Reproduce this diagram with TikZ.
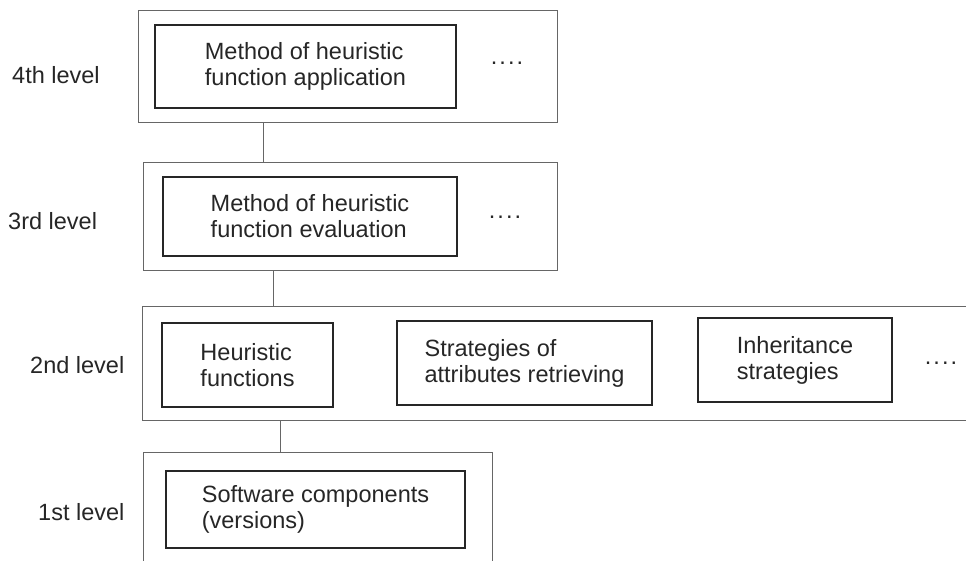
\documentclass[tikz,border=0pt]{standalone}
\usepackage{fontspec}
\setmainfont{Liberation Sans}
\usepackage{tikz}
\def\moredots{.\kern2pt.\kern2pt.\kern2pt.}

\begin{document}
\begin{tikzpicture}[x=1pt, y=-1pt,
		outbox/.style={draw=black!60, line width=0.9pt, inner sep=0pt},
		inbox/.style={draw=black!85, line width=2pt, inner sep=0pt, align=left, text=black!85},
		lbl/.style={anchor=west, inner sep=0pt, text=black!85},
		link/.style={draw=black!60, line width=0.9pt},
		font=\fontsize{23.5}{26}\selectfont]
			%%%%% START %%%%%
			\useasboundingbox (0,0) rectangle (966,561);
			\clip (0,0) rectangle (966,561);
			
			% 4th level
			\node[lbl] (lab4) at (12,75) {4th level};
			\node[outbox, minimum width=419, minimum height=112] (lev4) at (347.5,66) {};
			\node[inbox, minimum width=301, minimum height=83] (meth4) at (305.5,66.5) {Method of heuristic\\function application};
			\node[lbl, anchor=base] (more4) at (507,65) {\moredots};
			
			% 3rd level
			\node[lbl] (lab3) at (8,221) {3rd level};
			\node[outbox, minimum width=414, minimum height=108] (lev3) at (350,216) {};
			\node[inbox, minimum width=294, minimum height=79] (meth3) at (310,216.5) {Method of heuristic\\function evaluation};
			\node[lbl, anchor=base] (more3) at (505,218.5) {\moredots};
			
			% 2nd level
			\node[lbl] (lab2) at (30,365) {2nd level};
			\node[outbox, minimum width=850, minimum height=114] (lev2) at (567,363) {};
			\node[inbox, minimum width=171, minimum height=84] (heur) at (247.5,365) {Heuristic\\functions};
			\node[inbox, minimum width=255, minimum height=84] (strat) at (524.5,363) {Strategies of\\attributes retrieving};
			\node[inbox, minimum width=194, minimum height=84] (inher) at (795,360) {Inheritance\\strategies};
			\node[lbl, anchor=base] (more2) at (941,364.5) {\moredots};
			
			% 1st level
			\node[lbl] (lab1) at (38,512) {1st level};
			\node[outbox, minimum width=349, minimum height=126] (lev1) at (317.5,515) {};
			\node[inbox, minimum width=299, minimum height=77] (comp) at (315.5,509.5) {Software components\\(versions)};
			
			% links between levels
			\draw[link] ([xshift=-84.5]lev4.south) -- ([xshift=-84.5]lev4.south |- lev3.north);
			\draw[link] ([xshift=-77]lev3.south) -- ([xshift=-77]lev3.south |- lev2.north);
			\draw[link] ([xshift=-287]lev2.south) -- ([xshift=-287]lev2.south |- lev1.north);
			
			%%%%% END %%%%%
		\end{tikzpicture}
\end{document}
